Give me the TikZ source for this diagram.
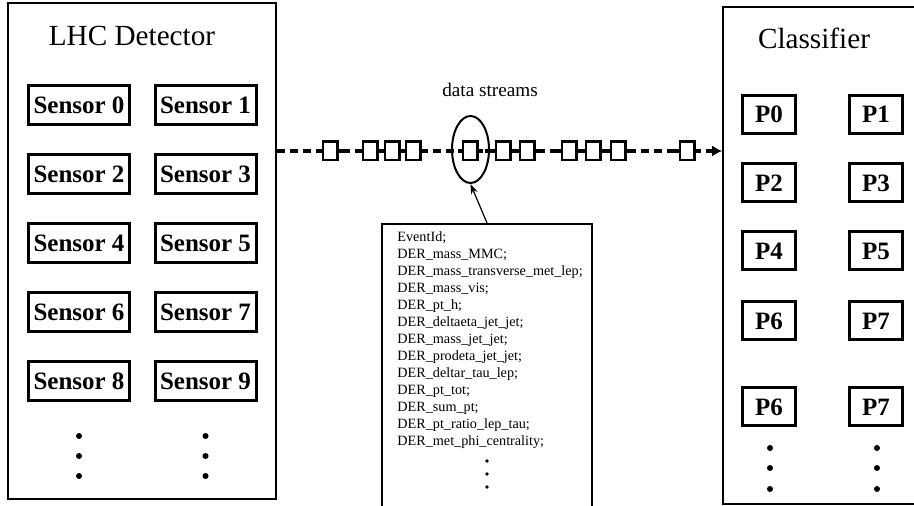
\documentclass[tikz,border=0pt]{standalone}
\usepackage{fontspec}
\setmainfont{Liberation Serif}
\usetikzlibrary{shapes.geometric,arrows.meta}
\tikzstyle{panel}=[draw, line width=0.8pt, inner sep=0pt]
\tikzstyle{title}=[font=\fontsize{14.6}{17}\selectfont]
\tikzstyle{sensor}=[draw, line width=1.5pt, minimum width=50.5pt, minimum height=19.5pt, inner sep=0pt, font=\fontsize{12.5}{14}\selectfont\bfseries]
\tikzstyle{proc}=[sensor, minimum width=26.5pt, minimum height=19pt]
\tikzstyle{dot}=[circle, fill=black, inner sep=0pt, minimum size=3pt]
\tikzstyle{smalldot}=[dot, minimum size=1.8pt]
\tikzstyle{stream}=[line width=1.6pt, dash pattern=on 4pt off 2.5pt, -{Latex[length=5pt,width=5.5pt]}]
\tikzstyle{stub}=[line width=1.6pt]
\tikzstyle{packet}=[draw, fill=white, line width=1.3pt, minimum width=7.2pt, minimum height=9.2pt, inner sep=0pt, append after command={(\tikzlastnode.west) edge[stub] ++(-2pt,0) (\tikzlastnode.east) edge[stub] ++(2pt,0)}]
\tikzstyle{fields}=[align=left, inner sep=0pt, font=\fontsize{7.1}{8.5}\selectfont]
\tikzstyle{pointer}=[line width=0.6pt, -{Stealth[length=5pt,width=3.5pt]}]

\begin{document}
\begin{tikzpicture}[x=0.5pt, y=-0.5pt]
\useasboundingbox (0,0) rectangle (914,506);
\clip (0,0) rectangle (914,506);

\node[panel, minimum width=134pt, minimum height=248pt] (det) at (142,251) {};
\node[title] (det_t) at (132,36) {LHC Detector};
\node[sensor] (s_0) at (79,105) {Sensor 0};
\node[sensor] (s_1) at (205.5,105) {Sensor 1};
\node[sensor] (s_2) at (79,174) {Sensor 2};
\node[sensor] (s_3) at (205.5,174) {Sensor 3};
\node[sensor] (s_4) at (79,243) {Sensor 4};
\node[sensor] (s_5) at (205.5,243) {Sensor 5};
\node[sensor] (s_6) at (79,312) {Sensor 6};
\node[sensor] (s_7) at (205.5,312) {Sensor 7};
\node[sensor] (s_8) at (79,381) {Sensor 8};
\node[sensor] (s_9) at (205.5,381) {Sensor 9};
\node[dot] (sd_1) at (79,436) {};
\node[dot] (sd_2) at (79,456) {};
\node[dot] (sd_3) at (79,476) {};
\node[dot] (sd_4) at (205.5,436) {};
\node[dot] (sd_5) at (205.5,456) {};
\node[dot] (sd_6) at (205.5,476) {};

\node[panel, minimum width=99.5pt, minimum height=248.5pt] (cls) at (822.5,255.5) {};
\node[title] (cls_t) at (814,38) {Classifier};
\node[proc] (p_0) at (769,114.5) {P0};
\node[proc] (p_1) at (876,114.5) {P1};
\node[proc] (p_2) at (769,183) {P2};
\node[proc] (p_3) at (876,183) {P3};
\node[proc] (p_4) at (769,251) {P4};
\node[proc] (p_5) at (876,251) {P5};
\node[proc] (p_6) at (769,321) {P6};
\node[proc] (p_7) at (876,321) {P7};
\node[proc] (p_8) at (769,407) {P6};
\node[proc] (p_9) at (876,407) {P7};
\node[dot] (pd_1) at (770,448) {};
\node[dot] (pd_2) at (770,468) {};
\node[dot] (pd_3) at (770,489) {};
\node[dot] (pd_4) at (877,448) {};
\node[dot] (pd_5) at (877,468) {};
\node[dot] (pd_6) at (877,489) {};

\coordinate (flow) at (0,151);
\draw[stream] (det.east |- flow) -- (cls.west |- flow);
\node[packet] (k_1) at (330,151) {};
\node[packet] (k_2) at (370,151) {};
\node[packet] (k_3) at (392,151) {};
\node[packet] (k_4) at (413,151) {};
\node[packet] (k_5) at (470,151) {};
\node[packet] (k_6) at (503,151) {};
\node[packet] (k_7) at (527,151) {};
\node[packet] (k_8) at (569,151) {};
\node[packet] (k_9) at (593,151) {};
\node[packet] (k_10) at (618,151) {};
\node[packet] (k_11) at (687,151) {};

\node[draw, ellipse, line width=1pt, minimum width=18.5pt, minimum height=33.5pt, inner sep=0pt] (sel) at (470.5,149.5) {};
\node[font=\fontsize{9.6}{11}\selectfont] (ds) at (490,90) {data streams};

\node[panel, minimum width=105pt, minimum height=160pt, anchor=north] (lst) at (487,223) {};
\node[fields, anchor=north west] (fld) at (397,231) {EventId;\\DER\_mass\_MMC;\\DER\_mass\_transverse\_met\_lep;\\DER\_mass\_vis;\\DER\_pt\_h;\\DER\_deltaeta\_jet\_jet;\\DER\_mass\_jet\_jet;\\DER\_prodeta\_jet\_jet;\\DER\_deltar\_tau\_lep;\\DER\_pt\_tot;\\DER\_sum\_pt;\\DER\_pt\_ratio\_lep\_tau;\\DER\_met\_phi\_centrality;};
\node[smalldot] (fd_1) at (487,461) {};
\node[smalldot] (fd_2) at (487,474) {};
\node[smalldot] (fd_3) at (487,487) {};
\draw[pointer] (lst.north) -- (sel.south);
\end{tikzpicture}
\end{document}
